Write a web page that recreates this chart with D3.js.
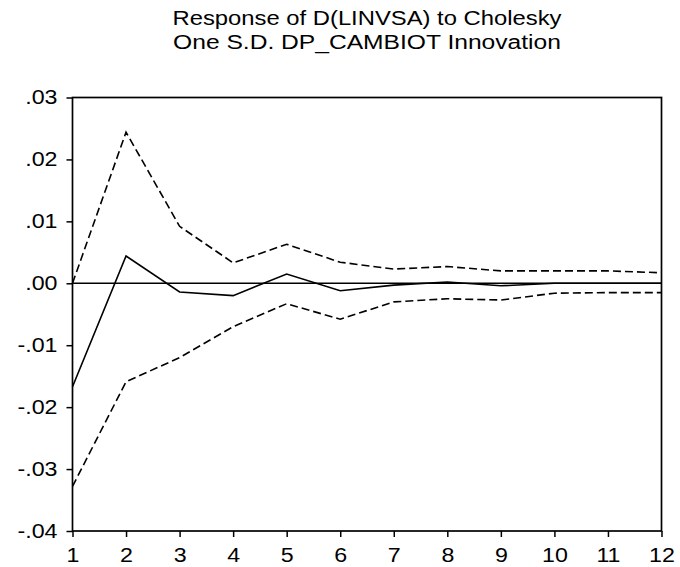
<!DOCTYPE html>
<html><head><meta charset="utf-8">
<script src="https://cdn.jsdelivr.net/npm/d3@7"></script>
<style>
html,body{margin:0;padding:0;background:#fff;}
svg{display:block;font-family:Arial,"Liberation Sans",sans-serif;}
</style></head>
<body><svg id="c" width="680" height="567"></svg>
<script>
const periods = [1,2,3,4,5,6,7,8,9,10,11,12];
const response = [-0.0167,0.0044,-0.0014,-0.0020,0.0015,-0.0012,-0.0003,0.0002,-0.0004,0.0000,0.0000,0.0000];
const upper = [0.0000,0.0244,0.0092,0.0033,0.0063,0.0034,0.0023,0.0027,0.0020,0.0020,0.0020,0.0017];
const lower = [-0.0328,-0.0159,-0.0120,-0.0070,-0.0033,-0.0058,-0.0030,-0.0025,-0.0027,-0.0016,-0.0015,-0.0015];
const yTicks = [-0.04,-0.03,-0.02,-0.01,0.00,0.01,0.02,0.03];
const titleLines = ["Response of D(LINVSA) to Cholesky","One S.D. DP_CAMBIOT Innovation"];

const svg = d3.select("#c");
const L = 72.5, R = 661.5, T = 97.5, B = 531;
const x = d3.scaleLinear().domain([1,12]).range([L,R]);
const y = d3.scaleLinear().domain([-0.04,0.03]).range([B,T]);
const STRETCH = 1.16;

const fmt = v => { let s = Math.abs(v).toFixed(2).replace(/^0\./, "."); return (v < -1e-9 ? "-" : "") + s; };

function stretch(sel, k){
  sel.each(function(){
    const w = this.getComputedTextLength();
    d3.select(this).attr("textLength", w*k).attr("lengthAdjust","spacingAndGlyphs");
  });
}

// axes
const yAxis = d3.axisLeft(y).tickValues(yTicks).tickFormat(fmt).tickSize(6).tickPadding(9);
const gy = svg.append("g").attr("transform",`translate(${L},0)`).call(yAxis);
const xAxis = d3.axisBottom(x).tickValues(periods).tickFormat(d3.format("d")).tickSize(6).tickPadding(11);
const gx = svg.append("g").attr("transform",`translate(0,${B})`).call(xAxis);
[gy,gx].forEach(g=>{
  g.select(".domain").remove();
  g.attr("font-size",null).attr("font-family",null);
  g.selectAll(".tick line").attr("stroke","#000").attr("stroke-width",1.5);
  g.selectAll(".tick text").attr("fill","#000").style("font-size","20px").call(stretch, STRETCH);
});

// zero line
svg.append("line").attr("x1",L).attr("x2",R).attr("y1",y(0)).attr("y2",y(0))
  .attr("stroke","#000").attr("stroke-width",1.5);

const line = d3.line().x((d,i)=>x(periods[i])).y(d=>y(d));
svg.append("path").datum(upper).attr("d",line).attr("fill","none").attr("stroke","#000").attr("stroke-width",1.6).attr("stroke-dasharray","8,4");
svg.append("path").datum(lower).attr("d",line).attr("fill","none").attr("stroke","#000").attr("stroke-width",1.6).attr("stroke-dasharray","8,4");
svg.append("path").datum(response).attr("d",line).attr("fill","none").attr("stroke","#000").attr("stroke-width",1.6);

// frame
svg.append("rect").attr("x",L).attr("y",T).attr("width",R-L).attr("height",B-T)
  .attr("fill","none").attr("stroke","#000").attr("stroke-width",1.7);

// title
svg.append("g").selectAll("text").data(titleLines).join("text")
  .attr("x",(L+R)/2).attr("y",(d,i)=>25+i*24)
  .attr("text-anchor","middle").style("font-size","20px").attr("fill","#000")
  .text(d=>d)
  .each(function(d,i){
    const w = this.getComputedTextLength();
    const k = i === 0 ? 1.19 : 1.23;
    d3.select(this).attr("textLength", w*k).attr("lengthAdjust","spacingAndGlyphs");
  });
</script></body></html>
